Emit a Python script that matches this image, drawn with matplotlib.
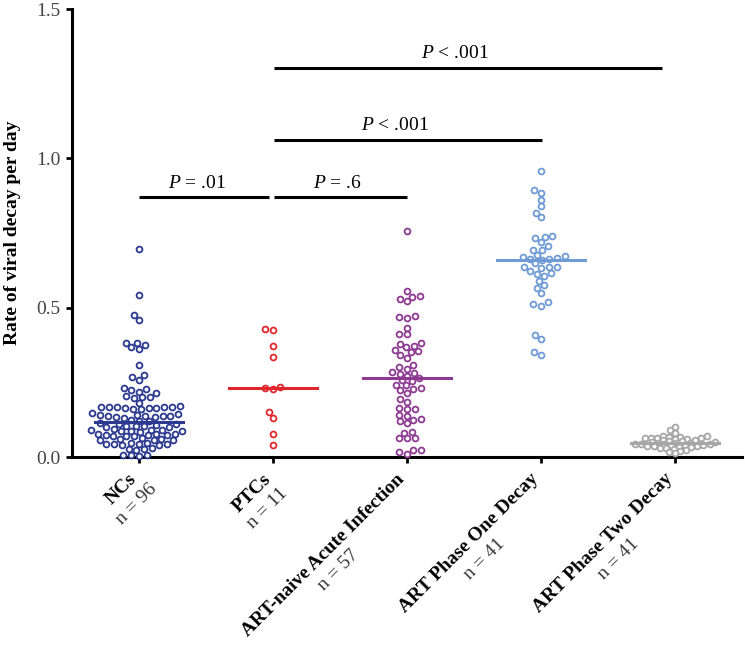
import matplotlib
matplotlib.use('Agg')
import matplotlib.pyplot as plt
import numpy as np

plt.rcParams['font.family'] = ['Liberation Serif', 'DejaVu Serif']
plt.rcParams['mathtext.fontset'] = 'custom'
plt.rcParams['mathtext.rm'] = 'Liberation Serif'
plt.rcParams['mathtext.it'] = 'Liberation Serif:italic'
plt.rcParams['mathtext.bf'] = 'Liberation Serif:bold'

# data
groups = ['NCs', 'PTCs', 'ART-naive Acute Infection', 'ART Phase One Decay', 'ART Phase Two Decay']
n_labels = ['n = 96', 'n = 11', 'n = 57', 'n = 41', 'n = 41']
colors = ['#2b3990', '#e2252b', '#8e3a93', '#6e9bd6', '#a6a6a6']

ncs = [0.697, 0.543, 0.476, 0.460, 0.383, 0.383, 0.375, 0.368, 0.361, 0.309,
       0.273, 0.269, 0.258, 0.231, 0.229, 0.224, 0.219, 0.213, 0.204, 0.201,
       0.200, 0.196, 0.181,
       0.170, 0.169, 0.168, 0.167, 0.166, 0.166, 0.165, 0.164, 0.163, 0.162, 0.160,
       0.146, 0.144, 0.142, 0.140, 0.139, 0.138, 0.137, 0.136, 0.135, 0.134, 0.132,
       0.125, 0.122, 0.119,
       0.113, 0.111, 0.109, 0.107, 0.105, 0.104, 0.103, 0.101, 0.099,
       0.094, 0.092, 0.090, 0.089, 0.088, 0.087, 0.086, 0.085,
       0.078, 0.077, 0.076, 0.075, 0.074, 0.073, 0.072, 0.071, 0.070,
       0.062, 0.060, 0.059, 0.058, 0.057, 0.056,
       0.048, 0.046, 0.045, 0.044, 0.043, 0.042, 0.041, 0.040,
       0.030, 0.028, 0.026, 0.024,
       0.008, 0.007, 0.006, 0.005]
ptcs = [0.424, 0.427, 0.372, 0.335, 0.230, 0.227, 0.235, 0.150, 0.132, 0.077, 0.039]
acute = [0.756, 0.557, 0.537, 0.521, 0.529, 0.540, 0.470, 0.466, 0.472, 0.433,
         0.411, 0.413, 0.382, 0.372, 0.367, 0.378, 0.357, 0.350, 0.341, 0.355,
         0.332, 0.309, 0.296, 0.302, 0.277, 0.285, 0.282, 0.272, 0.264, 0.255,
         0.257, 0.241, 0.232, 0.224, 0.240, 0.228, 0.214, 0.194, 0.184, 0.163,
         0.162, 0.162, 0.137, 0.142, 0.125, 0.122, 0.127, 0.113, 0.081, 0.062,
         0.062, 0.064, 0.084, 0.023, 0.010, 0.017, 0.024]
phase1 = [0.956, 0.894, 0.883, 0.860, 0.839, 0.817, 0.802, 0.737, 0.733, 0.739,
          0.719, 0.705, 0.692, 0.694, 0.676, 0.672, 0.668, 0.664, 0.660, 0.664,
          0.671, 0.648, 0.635, 0.636, 0.634, 0.637, 0.623, 0.613, 0.615, 0.605,
          0.590, 0.566, 0.575, 0.549, 0.518, 0.507, 0.511, 0.407, 0.394, 0.342, 0.350]
phase2 = [0.099, 0.090, 0.082, 0.071, 0.069, 0.068, 0.066, 0.065, 0.064, 0.063,
          0.062, 0.061, 0.060, 0.058, 0.056, 0.054, 0.052, 0.050, 0.049, 0.048,
          0.047, 0.046, 0.045, 0.044, 0.043, 0.042, 0.041, 0.040, 0.039, 0.038,
          0.037, 0.036, 0.035, 0.033, 0.031, 0.029, 0.027, 0.024, 0.021, 0.017, 0.012]
data = [ncs, ptcs, acute, phase1, phase2]

# comparisons: (from, to, bar height, label)
comparisons = [(0, 0.97, 0.871, '$P$ = .01'),
               (1.01, 2.0, 0.871, '$P$ = .6'),
               (1.01, 3.01, 1.063, '$P$ < .001'),
               (1.01, 3.9, 1.303, '$P$ < .001')]
label_x = [0.43, 1.48, 1.91, 2.36]


def swarm(vals, a, b, ysc, xsc):
    # beeswarm in pixel units, elliptic spacing (a wide, b tall)
    ys = np.asarray(vals) * ysc
    xs = np.zeros(len(ys))
    placed = []
    for i in np.argsort(ys, kind='stable'):
        y = ys[i]
        cands = [0.0]
        spans = []
        for px, py in placed:
            dy = abs(py - y)
            if dy < b:
                dx = a * np.sqrt(1 - (dy / b) ** 2)
                spans.append((px - dx, px + dx))
                cands += [px - dx, px + dx]
        cands.sort(key=abs)
        for c in cands:
            if all(not (lo + 1e-6 < c < hi - 1e-6) for lo, hi in spans):
                xs[i] = c
                break
        placed.append((xs[i], y))
    return xs / xsc


fig = plt.figure(figsize=(7.45, 6.59), dpi=100)
ax = fig.add_axes([0.0966, 0.3065, 0.8993, 0.6798])
ax.set_xlim(-0.5, 4.5)
ax.set_ylim(0, 1.5)

ysc = 0.6798 * 659 / 1.5
xsc = 0.8993 * 745 / 5
sp_w = [8, 8, 8, 8, 6.5]
sp_h = [6, 6, 6, 6, 4]

for i, vals in enumerate(data):
    offs = swarm(vals, sp_w[i], sp_h[i], ysc, xsc)
    ax.plot(i + offs, vals, 'o', mfc='white', mec=colors[i], ms=4.2, mew=1.3,
            linestyle='none', clip_on=False, zorder=3)
    med = np.median(vals)
    ax.plot([i - 0.33, i + 0.33], [med, med], color=colors[i], lw=2.2, zorder=4)

for (a, b, h, txt), tx in zip(comparisons, label_x):
    ax.plot([a, b], [h, h], color='black', lw=2.2, solid_capstyle='butt', clip_on=False)
    ax.text(tx, h + 0.018, txt, ha='center', va='bottom', fontsize=14)

# axes styling
for s in ['top', 'right']:
    ax.spines[s].set_visible(False)
for s in ['left', 'bottom']:
    ax.spines[s].set_linewidth(2.2)
ax.set_yticks([0, 0.5, 1.0, 1.5])
ax.set_yticklabels(['0.0', '0.5', '1.0', '1.5'])
ax.tick_params(axis='y', length=4.5, width=2, pad=3.5, labelsize=14, labelcolor='#444444')
ax.set_xticks(range(5))
ax.set_xticklabels([])
ax.tick_params(axis='x', length=4.5, width=2)
ax.set_ylabel('Rate of viral decay per day', fontsize=14, fontweight='bold')
ax.yaxis.set_label_coords(-0.076, 0.5)

# rotated category labels with n below
for i, (g, n) in enumerate(zip(groups, n_labels)):
    t = ax.annotate(g, xy=(i, 0), xycoords=('data', 'axes fraction'),
                    xytext=(-3.5, -14), textcoords='offset points',
                    ha='right', va='center', rotation=45, rotation_mode='anchor',
                    fontsize=14, fontweight='bold')
    ax.annotate(n, xy=(0.5, 0.5), xycoords=t, xytext=(11, -11),
                textcoords='offset points', ha='center', va='center',
                rotation=45, rotation_mode='anchor', fontsize=14, color='#333333')

fig.savefig('out.png', dpi=100, facecolor='white')
